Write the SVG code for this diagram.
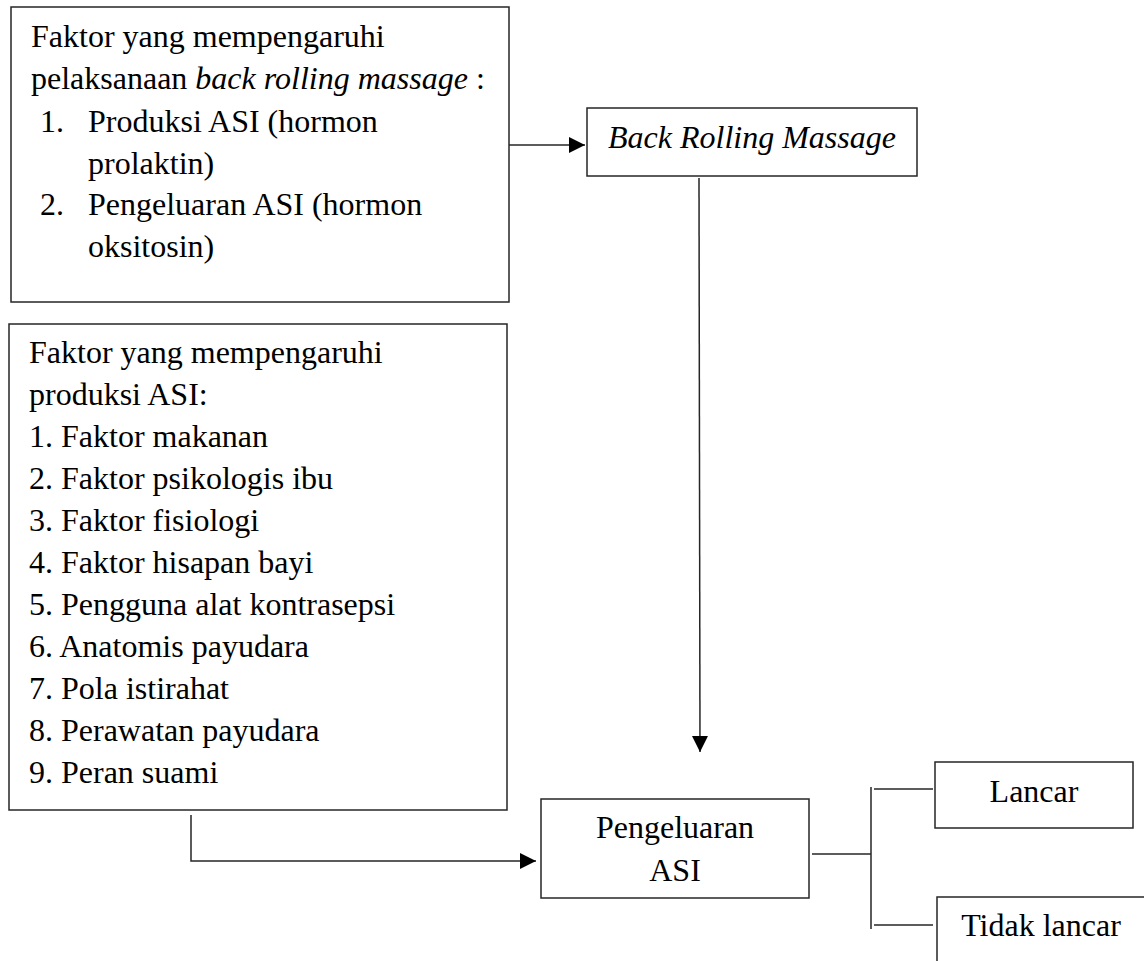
<svg xmlns="http://www.w3.org/2000/svg" width="1144" height="961" viewBox="0 0 1144 961">
<defs>
<style>
.box{fill:#fff;stroke:#262626;stroke-width:1.5}
.ln{fill:none;stroke:#262626;stroke-width:1.5}
text{font-family:"Liberation Serif","Times New Roman",serif;font-size:32px;fill:#000}
.it{font-style:italic}
.c{text-anchor:middle}
</style>
<marker id="ah" markerUnits="userSpaceOnUse" markerWidth="18" markerHeight="18" refX="16" refY="8" orient="auto">
<path d="M0,0 L16,8 L0,16 Z" fill="#000"/>
</marker>
</defs>
<rect width="1144" height="961" fill="#fff"/>
<g id="connectors">
<line class="ln" x1="509" y1="145" x2="585" y2="145" marker-end="url(#ah)"/>
<line class="ln" x1="699" y1="178" x2="700" y2="752" marker-end="url(#ah)"/>
<polyline class="ln" points="191,815 191,861 536,861" marker-end="url(#ah)"/>
<line class="ln" x1="812" y1="854" x2="871" y2="854"/>
<line class="ln" x1="871" y1="787" x2="871" y2="929"/>
<line class="ln" x1="874" y1="789" x2="933" y2="789"/>
<line class="ln" x1="874" y1="925" x2="933" y2="925"/>
</g>
<g id="factors-massage">
<rect class="box" x="11" y="7" width="498" height="295"/>
<text x="31" y="47">Faktor yang mempengaruhi</text>
<text x="31" y="89">pelaksanaan <tspan class="it">back rolling massage</tspan> :</text>
<text x="40" y="132">1.</text>
<text x="88" y="132">Produksi ASI (hormon</text>
<text x="88" y="174">prolaktin)</text>
<text x="40" y="215">2.</text>
<text x="88" y="215">Pengeluaran ASI (hormon</text>
<text x="88" y="257">oksitosin)</text>
</g>
<g id="factors-production">
<rect class="box" x="9" y="324" width="498" height="486"/>
<text x="29" y="363">Faktor yang mempengaruhi</text>
<text x="29" y="405">produksi ASI:</text>
<text x="29" y="447">1. Faktor makanan</text>
<text x="29" y="489">2. Faktor psikologis ibu</text>
<text x="29" y="531">3. Faktor fisiologi</text>
<text x="29" y="573">4. Faktor hisapan bayi</text>
<text x="29" y="615">5. Pengguna alat kontrasepsi</text>
<text x="29" y="657">6. Anatomis payudara</text>
<text x="29" y="699">7. Pola istirahat</text>
<text x="29" y="741">8. Perawatan payudara</text>
<text x="29" y="783">9. Peran suami</text>
</g>
<g id="back-rolling-massage">
<rect class="box" x="587" y="108" width="330" height="68"/>
<text class="it c" x="752" y="148">Back Rolling Massage</text>
</g>
<g id="pengeluaran-asi">
<rect class="box" x="541" y="799" width="268" height="99"/>
<text class="c" x="675" y="838">Pengeluaran</text>
<text class="c" x="675" y="881">ASI</text>
</g>
<g id="lancar">
<rect class="box" x="935" y="762" width="198" height="66"/>
<text class="c" x="1034" y="802">Lancar</text>
</g>
<g id="tidak-lancar">
<rect class="box" x="937" y="897" width="210" height="80"/>
<text class="c" x="1041" y="936">Tidak lancar</text>
</g>
</svg>
